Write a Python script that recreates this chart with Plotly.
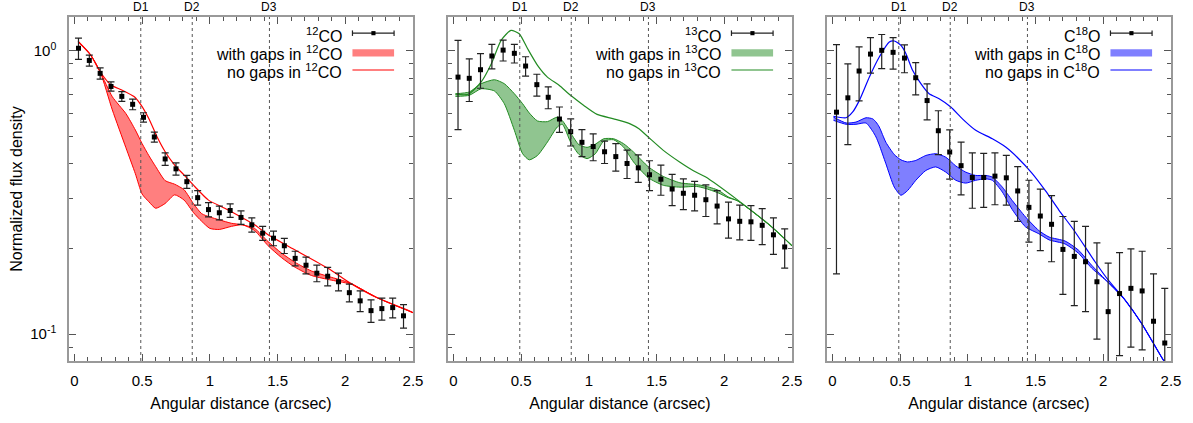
import plotly.graph_objects as go
from plotly.subplots import make_subplots

# ---- observed radial profiles (points + 1 sigma) ----
x_12co = [0.03, 0.11, 0.19, 0.27, 0.35, 0.43, 0.51, 0.59, 0.67, 0.75, 0.83, 0.91, 0.99, 1.07, 1.15, 1.23,
          1.31, 1.39, 1.47, 1.55, 1.63, 1.71, 1.79, 1.87, 1.95, 2.03, 2.11, 2.19, 2.27, 2.35, 2.43]
y_12co = [1.02, 0.924, 0.832, 0.748, 0.690, 0.647, 0.582, 0.496, 0.415, 0.383, 0.345, 0.303, 0.275, 0.268, 0.273, 0.258,
          0.243, 0.227, 0.218, 0.205, 0.185, 0.175, 0.164, 0.160, 0.153, 0.140, 0.131, 0.121, 0.123, 0.124, 0.116]
e_12co = [0.088, 0.041, 0.038, 0.028, 0.027, 0.028, 0.022, 0.020, 0.021, 0.019, 0.018, 0.018, 0.016, 0.015, 0.015, 0.014,
          0.014, 0.013, 0.013, 0.0125, 0.011, 0.012, 0.011, 0.012, 0.011, 0.010, 0.011, 0.011, 0.011, 0.010, 0.011]

x_13co = [0.034, 0.117, 0.200, 0.284, 0.367, 0.450, 0.533, 0.616, 0.700, 0.783, 0.866, 0.949, 1.032, 1.116, 1.199,
          1.282, 1.365, 1.448, 1.532, 1.615, 1.698, 1.781, 1.864, 1.947, 2.031, 2.114, 2.197, 2.280, 2.363, 2.446]
y_13co = [0.807, 0.799, 0.857, 0.958, 1.005, 0.979, 0.883, 0.759, 0.685, 0.574, 0.518, 0.475, 0.459, 0.440, 0.423,
          0.400, 0.386, 0.365, 0.352, 0.325, 0.314, 0.309, 0.298, 0.283, 0.255, 0.250, 0.249, 0.242, 0.224, 0.203]
e_13co = [0.28, 0.137, 0.12, 0.095, 0.085, 0.074, 0.069, 0.067, 0.061, 0.059, 0.057, 0.052, 0.050, 0.040, 0.047,
          0.046, 0.043, 0.044, 0.043, 0.041, 0.039, 0.037, 0.038, 0.038, 0.037, 0.035, 0.035, 0.035, 0.033, 0.032]

x_c18o = [0.030, 0.114, 0.197, 0.281, 0.364, 0.448, 0.532, 0.615, 0.699, 0.782, 0.866, 0.950, 1.033, 1.117, 1.200,
          1.284, 1.368, 1.451, 1.535, 1.618, 1.702, 1.786, 1.869, 1.953, 2.036, 2.120, 2.204, 2.287, 2.371, 2.454]
y_c18o = [0.607, 0.682, 0.848, 0.973, 1.003, 0.987, 0.942, 0.803, 0.667, 0.522, 0.439, 0.393, 0.357, 0.357, 0.361,
          0.356, 0.320, 0.280, 0.261, 0.244, 0.199, 0.188, 0.180, 0.153, 0.120, 0.139, 0.145, 0.142, 0.111, 0.093]
e_c18o = [0.444, 0.216, 0.183, 0.139, 0.138, 0.126, 0.106, 0.105, 0.097, 0.092, 0.087, 0.083, 0.079, 0.077, 0.075,
          0.071, 0.070, 0.069, 0.064, 0.064, 0.061, 0.062, 0.060, 0.057, 0.058, 0.055, 0.055, 0.054, 0.052, 0.052]

# ---- models without gaps ----
xn_12co = [0.03, 0.12, 0.19, 0.27, 0.35, 0.44, 0.49, 0.55, 0.61, 0.67, 0.74, 0.81, 0.89, 0.99, 1.11, 1.23,
           1.33, 1.43, 1.63, 1.87, 2.04, 2.24, 2.46, 2.5]
yn_12co = [1.076, 0.966, 0.843, 0.757, 0.727, 0.689, 0.645, 0.575, 0.497, 0.44, 0.395, 0.364, 0.331, 0.297, 0.278, 0.259,
           0.243, 0.224, 0.198, 0.171, 0.151, 0.134, 0.1216, 0.119]

xn_13co = [0.015, 0.11, 0.205, 0.28, 0.352, 0.425, 0.486, 0.548, 0.621, 0.694, 0.78, 0.865, 0.963, 1.061, 1.183,
           1.305, 1.37, 1.44, 1.55, 1.67, 1.79, 1.86, 2.1, 2.35, 2.5]
yn_13co = [0.702, 0.702, 0.776, 0.90, 1.088, 1.18, 1.148, 1.016, 0.888, 0.807, 0.755, 0.696, 0.641, 0.596, 0.575,
           0.552, 0.53, 0.495, 0.445, 0.405, 0.373, 0.359, 0.297, 0.239, 0.205]

xn_c18o = [0.008, 0.101, 0.15, 0.199, 0.273, 0.346, 0.42, 0.457, 0.506, 0.543, 0.592, 0.653, 0.714, 0.788, 0.874,
           0.96, 1.058, 1.181, 1.279, 1.377, 1.473, 1.574, 1.672, 1.782, 1.939, 2.037, 2.16, 2.283, 2.443, 2.5]
yn_c18o = [0.587, 0.58, 0.608, 0.668, 0.808, 0.95, 1.073, 1.082, 1.044, 0.976, 0.853, 0.765, 0.705, 0.677, 0.633,
           0.575, 0.524, 0.489, 0.457, 0.415, 0.37, 0.32, 0.274, 0.233, 0.18, 0.155, 0.132, 0.109, 0.081, 0.074]

# ---- models with gaps (envelope: upper / lower) ----
xb_12co = [0.03, 0.12, 0.19, 0.28, 0.38, 0.45, 0.50, 0.55, 0.60, 0.67, 0.74, 0.81, 0.88, 0.94, 1.00, 1.07,
           1.16, 1.24, 1.33, 1.43, 1.53, 1.63, 1.75, 1.87, 1.99, 2.05, 2.24, 2.5]
hi_12co = [1.076, 0.966, 0.843, 0.688, 0.600, 0.525, 0.470, 0.426, 0.390, 0.348, 0.338, 0.323, 0.288, 0.266, 0.259, 0.253,
           0.246, 0.243, 0.236, 0.212, 0.193, 0.179, 0.167, 0.160, 0.154, 0.150, 0.134, 0.119]
lo_12co = [1.076, 0.966, 0.843, 0.618, 0.455, 0.368, 0.312, 0.293, 0.278, 0.289, 0.310, 0.297, 0.268, 0.250, 0.236, 0.234,
           0.240, 0.243, 0.232, 0.205, 0.186, 0.172, 0.161, 0.156, 0.152, 0.150, 0.134, 0.119]

xb_13co = [0.015, 0.117, 0.205, 0.303, 0.376, 0.45, 0.511, 0.56, 0.621, 0.694, 0.767, 0.804, 0.865, 0.926, 0.987,
           1.048, 1.11, 1.183, 1.256, 1.33, 1.44, 1.55, 1.672, 1.794, 1.857, 1.955, 2.028, 2.1, 2.35, 2.5]
hi_13co = [0.705, 0.715, 0.765, 0.79, 0.765, 0.705, 0.65, 0.603, 0.565, 0.562, 0.583, 0.567, 0.513, 0.466, 0.456,
           0.468, 0.489, 0.489, 0.47, 0.439, 0.389, 0.36, 0.342, 0.337, 0.333, 0.322, 0.305, 0.295, 0.239, 0.205]
lo_13co = [0.69, 0.696, 0.734, 0.721, 0.65, 0.524, 0.433, 0.412, 0.427, 0.476, 0.538, 0.55, 0.476, 0.431, 0.416,
           0.433, 0.48, 0.485, 0.457, 0.405, 0.356, 0.335, 0.33, 0.332, 0.327, 0.315, 0.303, 0.295, 0.239, 0.205]

xb_c18o = [0.008, 0.101, 0.174, 0.248, 0.297, 0.322, 0.346, 0.395, 0.457, 0.506, 0.555, 0.616, 0.69, 0.763, 0.837,
           0.911, 0.984, 1.058, 1.132, 1.181, 1.255, 1.328, 1.426, 1.524, 1.60, 1.718, 1.816, 1.914, 2.037, 2.16,
           2.283, 2.443, 2.5]
hi_c18o = [0.583, 0.556, 0.56, 0.58, 0.575, 0.56, 0.538, 0.475, 0.43, 0.412, 0.405, 0.41, 0.427, 0.433, 0.421,
           0.392, 0.373, 0.363, 0.363, 0.358, 0.33, 0.296, 0.259, 0.232, 0.22, 0.213, 0.198, 0.175, 0.152, 0.132,
           0.109, 0.081, 0.074]
lo_c18o = [0.568, 0.55, 0.55, 0.556, 0.52, 0.496, 0.465, 0.399, 0.33, 0.309, 0.321, 0.349, 0.378, 0.389, 0.373,
           0.349, 0.341, 0.349, 0.353, 0.349, 0.317, 0.275, 0.239, 0.226, 0.215, 0.208, 0.193, 0.171, 0.152, 0.132,
           0.109, 0.081, 0.074]

gap_pos = [0.49, 0.87, 1.44]
gap_names = ["D1", "D2", "D3"]

panels = [
    dict(name="<sup>12</sup>CO", line="#ff0000", fill="rgba(255,0,0,0.5)",
         x=x_12co, y=y_12co, e=e_12co, xn=xn_12co, yn=yn_12co, xb=xb_12co, hi=hi_12co, lo=lo_12co),
    dict(name="<sup>13</sup>CO", line="#228b22", fill="rgba(34,139,34,0.5)",
         x=x_13co, y=y_13co, e=e_13co, xn=xn_13co, yn=yn_13co, xb=xb_13co, hi=hi_13co, lo=lo_13co),
    dict(name="C<sup>18</sup>O", line="#0000ff", fill="rgba(0,0,255,0.5)",
         x=x_c18o, y=y_c18o, e=e_c18o, xn=xn_c18o, yn=yn_c18o, xb=xb_c18o, hi=hi_c18o, lo=lo_c18o),
]

FONT = "Liberation Sans, Arial, Helvetica, sans-serif"
fig = make_subplots(rows=1, cols=3, horizontal_spacing=35 / 1102)

for i, p in enumerate(panels):
    col = i + 1
    sfx = "" if i == 0 else str(col)
    # gap model envelope
    fig.add_trace(go.Scatter(x=p["xb"], y=p["lo"], mode="lines", line=dict(color=p["line"], width=1, shape="spline", smoothing=0.6),
                             showlegend=False, hoverinfo="skip"), row=1, col=col)
    fig.add_trace(go.Scatter(x=p["xb"], y=p["hi"], mode="lines", fill="tonexty", fillcolor=p["fill"],
                             line=dict(color=p["line"], width=1, shape="spline", smoothing=0.6),
                             showlegend=False, hoverinfo="skip"), row=1, col=col)
    # model without gaps
    fig.add_trace(go.Scatter(x=p["xn"], y=p["yn"], mode="lines", line=dict(color=p["line"], width=1.2, shape="spline", smoothing=0.6),
                             showlegend=False), row=1, col=col)
    # observations
    fig.add_trace(go.Scatter(x=p["x"], y=p["y"], mode="markers",
                             marker=dict(symbol="square", size=5, color="black"),
                             error_y=dict(type="data", array=p["e"], color="#222", thickness=1.2, width=3.5),
                             showlegend=False), row=1, col=col)

    # gap positions
    for g, gn in zip(gap_pos, gap_names):
        fig.add_shape(type="line", xref=f"x{sfx}", yref=f"y{sfx} domain", x0=g, x1=g, y0=0, y1=1,
                      line=dict(color="#555", width=1, dash="3px,3px"))
        fig.add_annotation(xref=f"x{sfx}", yref=f"y{sfx} domain", x=g, y=1, yanchor="bottom", yshift=1,
                           text=gn, showarrow=False, font=dict(size=12, family=FONT, color="black"))

    # hand-made legend (gnuplot style: text left, key right)
    xr, ya = f"x{sfx} domain", f"y{sfx} domain"
    labels = [p["name"], "with gaps in " + p["name"], "no gaps in " + p["name"]]
    rows_y = [0.948, 0.894, 0.843]
    for t, yy in zip(labels, rows_y):
        fig.add_annotation(xref=xr, yref=ya, x=0.799, y=yy, xanchor="right", yanchor="middle",
                           text=t, showarrow=False, font=dict(size=16, family=FONT, color="black"))
    k0, k1 = 0.824, 0.945
    fig.add_shape(type="line", xref=xr, yref=ya, x0=k0, x1=k1, y0=0.953, y1=0.953, line=dict(color="#222", width=1.2))
    for kx in (k0, k1):
        fig.add_shape(type="line", xref=xr, yref=ya, x0=kx, x1=kx, y0=0.945, y1=0.961, line=dict(color="#222", width=1.2))
    fig.add_shape(type="rect", xref=xr, yref=ya, x0=0.879, x1=0.891, y0=0.947, y1=0.959,
                  line=dict(width=0), fillcolor="black")
    fig.add_shape(type="rect", xref=xr, yref=ya, x0=k0, x1=k1, y0=0.885, y1=0.906,
                  line=dict(width=0), fillcolor=p["fill"])
    fig.add_shape(type="line", xref=xr, yref=ya, x0=k0, x1=k1, y0=0.846, y1=0.846, line=dict(color=p["line"], width=1.2))

fig.update_xaxes(range=[-0.04, 2.5], tick0=0, dtick=0.5, ticks="inside", ticklen=7, tickcolor="#555",
                 minor=dict(tick0=0, dtick=0.1, ticks="inside", ticklen=4, tickcolor="#555"),
                 showline=True, linecolor="#999", linewidth=1.5, mirror="allticks", automargin=False,
                 showgrid=False, zeroline=False, tickfont=dict(size=15, family=FONT, color="black"),
                 ticklabelstandoff=5,
                 title=dict(text="Angular distance (arcsec)", font=dict(size=16, family=FONT, color="black"), standoff=10))
fig.update_yaxes(type="log", range=[-1.095, 0.119], tickvals=[0.1, 1], ticktext=["10<sup>-1</sup>", "10<sup>0</sup>"],
                 ticks="inside", ticklen=7, tickcolor="#555",
                 minor=dict(tickmode="array", tickvals=[0.09, 0.2, 0.3, 0.4, 0.5, 0.6, 0.7, 0.8, 0.9],
                            ticks="inside", ticklen=4, tickcolor="#555"),
                 showline=True, linecolor="#999", linewidth=1.5, mirror="allticks", automargin=False,
                 showgrid=False, zeroline=False, tickfont=dict(size=15, family=FONT, color="black"),
                 ticklabelstandoff=8)
fig.update_yaxes(title=dict(text="Normalized flux density", font=dict(size=16, family=FONT, color="black"), standoff=4),
                 row=1, col=1)
fig.update_yaxes(showticklabels=False, row=1, col=2)
fig.update_yaxes(showticklabels=False, row=1, col=3)

fig.update_layout(width=1193, height=423, margin=dict(l=69, r=22, t=17, b=62),
                  plot_bgcolor="white", paper_bgcolor="white", showlegend=False,
                  font=dict(family=FONT, color="black"))
# page body has a default 8px margin; drop it so the figure sits at the window origin
fig.write_html("out.html", config={"displayModeBar": False},
               post_script="document.body.style.margin='0px';")
